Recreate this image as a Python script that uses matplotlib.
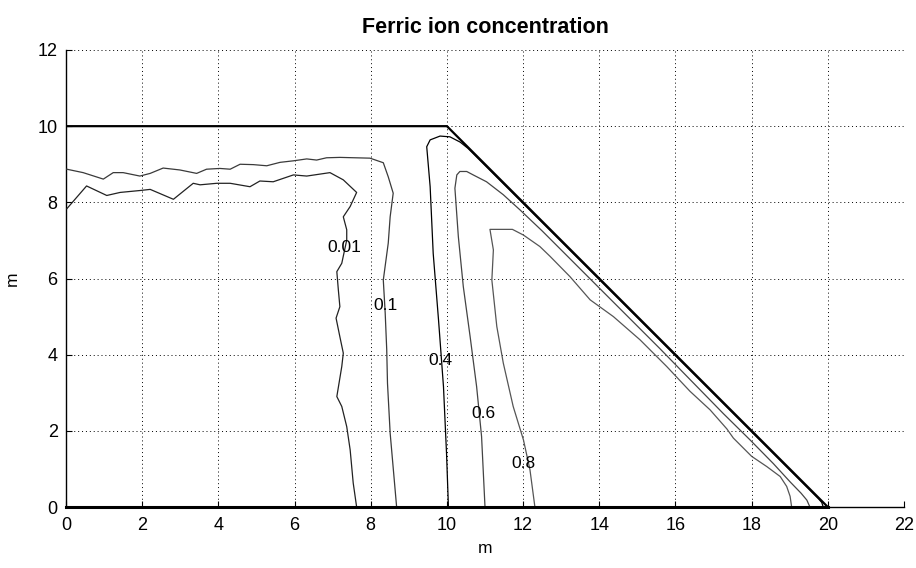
import matplotlib
matplotlib.use("Agg")
import matplotlib.pyplot as plt
import numpy as np

plt.rcParams['font.family'] = ['Liberation Sans', 'DejaVu Sans']

# domain boundary (top edge + sloping face + base)
bound_x = [0, 10, 20]
bound_y = [10, 10, 0]

# contour levels and their traced lines
c001_x = [0.02, 0.54, 1.07, 1.42, 1.94, 2.21, 2.82, 3.34, 3.52, 3.96, 4.31, 4.83, 5.09, 5.44,
          5.97, 6.32, 6.93, 7.28, 7.63, 7.46, 7.28, 7.37, 7.37, 7.24, 7.11, 7.15, 7.19, 7.09,
          7.19, 7.28, 7.24, 7.11, 7.24, 7.37, 7.46, 7.54, 7.63]
c001_y = [7.83, 8.43, 8.18, 8.26, 8.31, 8.34, 8.08, 8.50, 8.46, 8.50, 8.50, 8.41, 8.56, 8.54,
          8.72, 8.69, 8.78, 8.59, 8.26, 7.89, 7.62, 7.28, 7.01, 6.40, 6.18, 5.70, 5.26, 4.96,
          4.47, 4.04, 3.69, 2.90, 2.64, 2.11, 1.50, 0.63, 0.0]

c01_x = [0.02, 0.45, 0.98, 1.24, 1.50, 1.94, 2.21, 2.55, 2.99, 3.43, 3.69, 4.04, 4.31, 4.57,
         4.92, 5.27, 5.62, 5.97, 6.32, 6.58, 6.84, 7.19, 7.98, 8.33, 8.46, 8.59, 8.51, 8.46,
         8.33, 8.38, 8.42, 8.44, 8.51, 8.68]
c01_y = [8.87, 8.78, 8.61, 8.78, 8.78, 8.69, 8.76, 8.90, 8.85, 8.76, 8.87, 8.89, 8.87, 9.00,
         8.99, 8.96, 9.05, 9.09, 9.14, 9.11, 9.17, 9.18, 9.16, 9.04, 8.67, 8.24, 7.62, 6.93,
         5.96, 5.09, 4.13, 3.25, 1.94, 0.0]

c04_x = [10.04, 9.99, 9.91, 9.78, 9.64, 9.56, 9.47, 9.56, 9.82, 10.08, 10.35, 10.55,
         15.0, 19.76, 19.84, 19.88]
c04_y = [0.0, 1.41, 3.16, 4.91, 6.66, 8.41, 9.46, 9.64, 9.74, 9.72, 9.58, 9.42,
         4.97, 0.21, 0.12, 0.0]

c06_x = [11.0, 10.91, 10.78, 10.61, 10.43, 10.30, 10.21, 10.26, 10.34, 10.52, 10.69, 11.04,
         11.48, 11.92, 12.5, 12.97, 15.59, 16.38, 17.26, 17.96, 18.57, 19.01, 19.30, 19.45, 19.53]
c06_y = [0.0, 1.85, 3.16, 4.47, 5.79, 7.10, 8.37, 8.72, 8.81, 8.81, 8.72, 8.54,
         8.20, 7.80, 7.25, 6.78, 4.16, 3.35, 2.45, 1.76, 1.14, 0.66, 0.36, 0.18, 0.0]

c08_x = [12.31, 12.18, 12.01, 11.74, 11.48, 11.31, 11.18, 11.22, 11.13, 11.72, 12.01, 12.44,
         12.71, 13.23, 13.76, 14.37, 15.07, 15.77, 16.38, 16.91, 17.35, 17.52, 18.0, 18.40,
         18.75, 18.92, 19.01, 19.05]
c08_y = [0.0, 0.98, 1.76, 2.64, 3.78, 4.74, 5.96, 6.75, 7.29, 7.29, 7.14, 6.84,
         6.58, 6.05, 5.44, 5.00, 4.39, 3.69, 3.04, 2.55, 2.05, 1.81, 1.33, 1.06,
         0.80, 0.54, 0.28, 0.0]

levels = ['0.01', '0.1', '0.4', '0.6', '0.8']
label_x = [7.31, 8.38, 9.82, 10.96, 12.02]
label_y = [6.82, 5.28, 3.85, 2.45, 1.15]

lines = [(c001_x, c001_y), (c01_x, c01_y), (c04_x, c04_y), (c06_x, c06_y), (c08_x, c08_y)]
colors = ['#222222', '#3a3a3a', '#000000', '#444444', '#555555']

fig = plt.figure(figsize=(9.16, 5.68), dpi=100)
ax = fig.add_axes([66 / 916, 61 / 568, 838 / 916, 457 / 568])

for (lx, ly), c in zip(lines, colors):
    ax.plot(lx, ly, color=c, lw=0.9, zorder=3)

ax.plot(bound_x, bound_y, color='black', lw=1.6, zorder=4)
ax.plot([0, 20], [0, 0], color='black', lw=2.2, zorder=4, clip_on=False)

for t, x, y in zip(levels, label_x, label_y):
    ax.text(x, y, t, ha='center', va='center', fontsize=12.5, zorder=5)

ax.set_xlim(0, 22)
ax.set_ylim(0, 12)
ax.set_xticks(np.arange(0, 23, 2))
ax.set_yticks(np.arange(0, 13, 2))
ax.grid(True, linestyle=(0, (1, 3)), color='black', lw=0.7)
for s in ['top', 'right']:
    ax.spines[s].set_visible(False)
for s in ['left', 'bottom']:
    ax.spines[s].set_linewidth(1.0)
ax.tick_params(direction='in', length=4, labelsize=13)
ax.tick_params(axis='x', pad=7)
ax.tick_params(axis='y', pad=6)

ax.set_title('Ferric ion concentration', fontsize=15.5, fontweight='bold', pad=12)
ax.set_xlabel('m', fontsize=12.5, labelpad=5)
ax.set_ylabel('m', fontsize=12.5)
ax.yaxis.set_label_coords(-46 / 838, 0.5)

fig.savefig('out.png', dpi=100)
